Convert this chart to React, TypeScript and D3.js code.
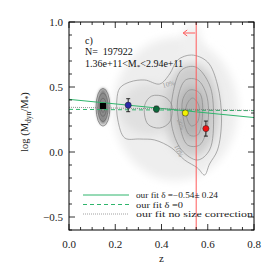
import React from "react";
import * as d3 from "d3";

// measured points (z, log Mdyn/M*, error)
const pointZ = [0.147, 0.256, 0.378, 0.503, 0.592];
const pointV = [0.354, 0.36, 0.33, 0.30, 0.18];
const pointErr = [0.0, 0.05, 0.022, 0.015, 0.058];
const pointColors = ["#000000", "#2a2aa8", "#0c6b3c", "#f2f200", "#ee1111"];

// fit lines (z, value at ends)
const fitZ = [0.0, 0.8];
const fitSolid = [0.405, 0.265];
const fitDashed = [0.328, 0.318];
const fitDotted = [0.344, 0.32];

const xTicks = [0.0, 0.2, 0.4, 0.6, 0.8];
const yTicks = [-0.5, 0.0, 0.5, 1.0];

const zCut = 0.55;

// density blobs: [z, v, rz, rv, grey]
const blobs: [number, number, number, number, string][] = [
  [0.46, 0.33, 0.27, 0.55, "#eeeeee"],
  [0.53, 0.7, 0.05, 0.3, "#f0f0f0"],
  [0.35, 0.33, 0.13, 0.2, "#e0e0e0"],
  [0.53, 0.32, 0.12, 0.36, "#cdcdcd"],
  [0.53, 0.3, 0.06, 0.2, "#b2b2b2"],
  [0.147, 0.35, 0.028, 0.14, "#8a8a8a"],
];

// contour rings, in data units [z, v]
const px2 = (p: number[][]) => p.map(([x, y]) => [(x - 69) / 232, (152 - y) / 130]);
const contours = [
  px2([[120, 88], [130, 82], [145, 80], [160, 84], [170, 74], [178, 60], [192, 55], [208, 62], [218, 85], [222, 120], [218, 150], [210, 164], [205, 175], [198, 168], [185, 160], [172, 148], [155, 140], [140, 139], [125, 138], [118, 120], [117, 100]]),
  px2([[145, 105], [152, 96], [165, 97], [172, 105], [170, 122], [160, 128], [148, 124]]),
  px2([[173, 95], [182, 70], [196, 67], [210, 85], [214, 115], [210, 150], [198, 160], [182, 150], [172, 125]]),
  px2([[178, 100], [186, 80], [198, 80], [207, 95], [208, 125], [200, 145], [188, 145], [180, 125]]),
  px2([[183, 100], [190, 90], [200, 93], [203, 115], [198, 135], [190, 135], [184, 120]]),
  px2([[187, 105], [193, 98], [199, 105], [198, 122], [192, 126], [187, 117]]),
];
const ringsA = [[0.03, 0.145], [0.022, 0.11], [0.015, 0.07], [0.008, 0.04]];

const legendLabels = [
  "our fit \u03b4 =\u22120.54\u00b1 0.24",
  "our fit \u03b4 =0",
  "our fit no size correction",
];

const font = "'Liberation Serif', 'DejaVu Serif', serif";

const App = () => {
  const left = 69, right = 254, top = 22, bottom = 230;
  const x = d3.scaleLinear().domain([0, 0.8]).range([left, right]);
  const y = d3.scaleLinear().domain([-0.6, 1.0]).range([bottom, top]);
  const line = d3.line<number[]>().x((d) => x(d[0])).y((d) => y(d[1])).curve(d3.curveCatmullRomClosed);

  const xMinor = d3.range(0, 0.8001, 0.05);
  const yMinor = d3.range(-0.6, 1.0001, 0.1);

  const green = "#2fb56c";
  const red = "#ff5a5a";

  return (
    <svg width={274} height={274} style={{ position: "fixed", left: 0, top: 0 }} fontFamily={font}>
      <defs>
        <clipPath id="plot">
          <rect x={left} y={top} width={right - left} height={bottom - top} />
        </clipPath>
        <filter id="blur" x="-50%" y="-50%" width="200%" height="200%">
          <feGaussianBlur stdDeviation="4" />
        </filter>
        <filter id="blur2" x="-50%" y="-50%" width="200%" height="200%">
          <feGaussianBlur stdDeviation="1.5" />
        </filter>
      </defs>
      <rect width={274} height={274} fill="#fff" />
      <g clipPath="url(#plot)">
        {blobs.map((b, i) => (
          <ellipse key={i} cx={x(b[0])} cy={y(b[1])}
            rx={x(b[2]) - x(0)} ry={y(0) - y(b[3])} fill={b[4]}
            filter={i === blobs.length - 1 ? "url(#blur2)" : "url(#blur)"} />
        ))}
        {contours.map((c, i) => (
          <path key={i} d={line(c) || ""} fill="none" stroke="#8a8a8a" strokeWidth={0.7} />
        ))}
        {ringsA.map((r, i) => (
          <ellipse key={i} cx={x(pointZ[0])} cy={y(pointV[0] - 0.01)}
            rx={x(r[0]) - x(0)} ry={y(0) - y(r[1])} fill="none" stroke="#666" strokeWidth={0.7} />
        ))}
        <text x={163} y={88} fontSize={7} fill="#999" transform="rotate(-15 163 88)">10%</text>
        <text x={174} y={146} fontSize={7} fill="#999" transform="rotate(65 174 146)">10%</text>
        <text x={177} y={120} fontSize={6} fill="#999" transform="rotate(70 177 120)">20%</text>

        <line x1={x(fitZ[0])} x2={x(fitZ[1])} y1={y(fitSolid[0])} y2={y(fitSolid[1])} stroke={green} strokeWidth={1} />
        <line x1={x(fitZ[0])} x2={x(fitZ[1])} y1={y(fitDashed[0])} y2={y(fitDashed[1])} stroke={green} strokeWidth={1} strokeDasharray="4,3" />
        <line x1={x(fitZ[0])} x2={x(fitZ[1])} y1={y(fitDotted[0])} y2={y(fitDotted[1])} stroke="#777" strokeWidth={0.8} strokeDasharray="1,1" />

        {pointZ.map((z, i) => (
          <g key={i}>
            {pointErr[i] > 0 && (
              <g stroke="#000" strokeWidth={0.8}>
                <line x1={x(z)} x2={x(z)} y1={y(pointV[i] - pointErr[i])} y2={y(pointV[i] + pointErr[i])} />
                <line x1={x(z) - 2} x2={x(z) + 2} y1={y(pointV[i] - pointErr[i])} y2={y(pointV[i] - pointErr[i])} />
                <line x1={x(z) - 2} x2={x(z) + 2} y1={y(pointV[i] + pointErr[i])} y2={y(pointV[i] + pointErr[i])} />
              </g>
            )}
            {i === 0 ? (
              <rect x={x(z) - 3} y={y(pointV[i]) - 3} width={6} height={6} fill="#000" />
            ) : (
              <circle cx={x(z)} cy={y(pointV[i])} r={3.1} fill={pointColors[i]} stroke="#222" strokeWidth={0.5} />
            )}
          </g>
        ))}

        <line x1={x(zCut)} x2={x(zCut)} y1={top} y2={bottom} stroke={red} strokeWidth={1} />
        <g stroke={red} strokeWidth={1} fill="none">
          <line x1={x(zCut) - 13} x2={x(zCut) - 1} y1={33} y2={33} />
          <polyline points={`${x(zCut) - 9},30 ${x(zCut) - 13},33 ${x(zCut) - 9},36`} />
        </g>
      </g>

      {/* axes frame and ticks */}
      <rect x={left} y={top} width={right - left} height={bottom - top} fill="none" stroke="#000" strokeWidth={1} />
      <g stroke="#000" strokeWidth={0.8}>
        {xMinor.map((t, i) => {
          const major = xTicks.some((m) => Math.abs(m - t) < 1e-6);
          const len = major ? 6 : 3;
          return (
            <g key={i}>
              <line x1={x(t)} x2={x(t)} y1={bottom} y2={bottom - len} />
              <line x1={x(t)} x2={x(t)} y1={top} y2={top + len} />
            </g>
          );
        })}
        {yMinor.map((t, i) => {
          const major = yTicks.some((m) => Math.abs(m - t) < 1e-6);
          const len = major ? 6 : 3;
          return (
            <g key={i}>
              <line x1={left} x2={left + len} y1={y(t)} y2={y(t)} />
              <line x1={right} x2={right - len} y1={y(t)} y2={y(t)} />
            </g>
          );
        })}
      </g>
      {xTicks.map((t) => (
        <text key={t} x={x(t)} y={248} fontSize={11} textAnchor="middle" fill="#222">{t.toFixed(1)}</text>
      ))}
      {yTicks.map((t) => (
        <text key={t} x={63} y={y(t) + 4} fontSize={11} textAnchor="end" fill="#222">
          {t < 0 ? "\u2212" + Math.abs(t).toFixed(1) : t.toFixed(1)}
        </text>
      ))}
      <text x={x(0.4)} y={262} fontSize={11} textAnchor="middle" fill="#222">z</text>
      <text transform="translate(28,122) rotate(-90)" fontSize={10.5} textAnchor="middle" fill="#222">
        log (M<tspan fontSize={7.5} dy={3}>dyn</tspan><tspan dy={-3}>/M</tspan><tspan fontSize={7.5} dy={3}>*</tspan><tspan dy={-3}>)</tspan>
      </text>

      {/* annotations */}
      <text x={85} y={44} fontSize={10} fill="#111">c)</text>
      <text x={85} y={55} fontSize={10} fill="#111" xmlSpace="preserve">N=  197922</text>
      <text x={85} y={67} fontSize={10} fill="#111">
        1.36e+11&lt;M<tspan fontSize={7} dy={2}>*</tspan><tspan dy={-2}>&lt;2.94e+11</tspan>
      </text>

      {/* legend */}
      <line x1={83} x2={129} y1={195} y2={195} stroke={green} strokeWidth={1} />
      <line x1={83} x2={129} y1={204.5} y2={204.5} stroke={green} strokeWidth={1} strokeDasharray="4,3" />
      <line x1={83} x2={129} y1={214} y2={214} stroke="#888" strokeWidth={0.8} strokeDasharray="1,1" />
      {legendLabels.map((l, i) => (
        <text key={i} x={136} y={198 + i * 9.5} fontSize={8.5} fill="#222"
          textLength={i === 0 ? 82 : i === 1 ? 47 : 117} lengthAdjust="spacingAndGlyphs">{l}</text>
      ))}
    </svg>
  );
};

export default App;
